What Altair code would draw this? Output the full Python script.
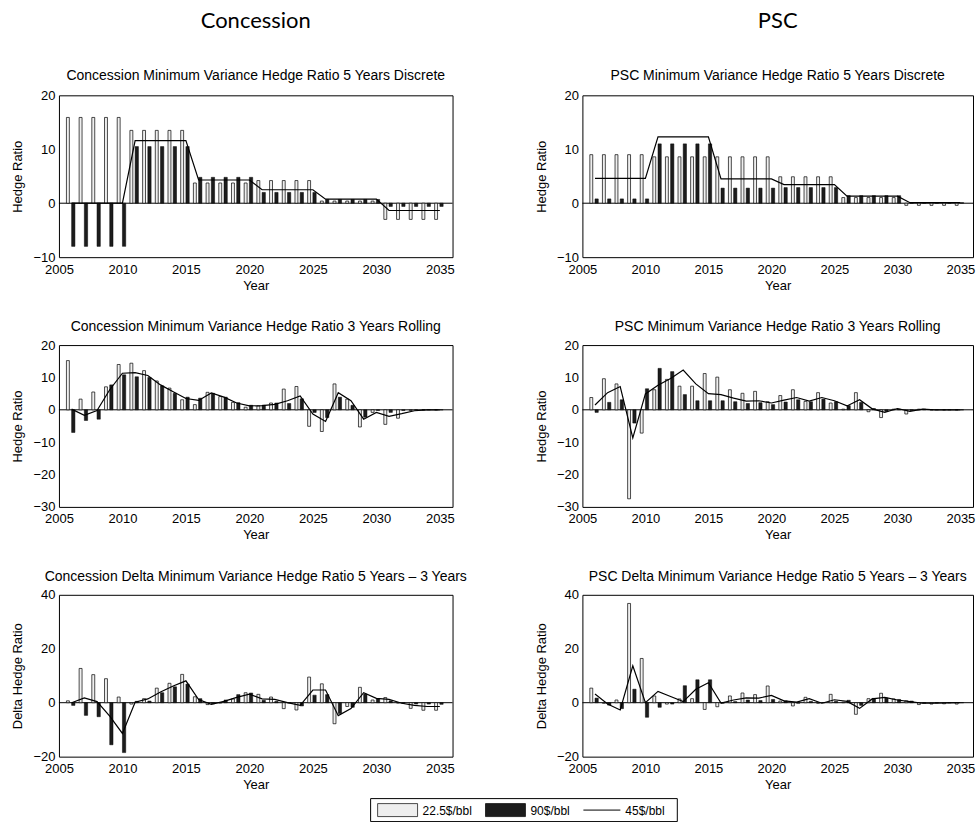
import altair as alt
import pandas as pd

years = list(range(2006, 2036))
series_names = ["22.5$/bbl", "90$/bbl", "45$/bbl"]
x_ticks = [2005, 2010, 2015, 2020, 2025, 2030, 2035]

# Concession, 5 years discrete
con5_low = [15.9, 15.9, 15.9, 15.9, 15.9, 13.5, 13.5, 13.5, 13.5, 13.5,
            3.75, 3.75, 3.75, 3.75, 3.75, 4.2, 4.2, 4.2, 4.2, 4.2,
            0.4, 0.4, 0.4, 0.4, 0.4, -3.0, -3.0, -3.0, -3.0, -3.0]
con5_high = [-8.0, -8.0, -8.0, -8.0, -8.0, 10.5, 10.5, 10.5, 10.5, 10.5,
             4.8, 4.8, 4.8, 4.8, 4.8, 2.0, 2.0, 2.0, 2.0, 2.0,
             0.7, 0.7, 0.7, 0.7, 0.7, -0.6, -0.6, -0.6, -0.6, -0.6]
con5_mid = [0.0, 0.0, 0.0, 0.0, 0.0, 11.6, 11.6, 11.6, 11.6, 11.6,
            4.3, 4.3, 4.3, 4.3, 4.3, 2.5, 2.5, 2.5, 2.5, 2.5,
            0.75, 0.75, 0.75, 0.75, 0.75, -1.35, -1.35, -1.35, -1.35, -1.35]

# PSC, 5 years discrete
psc5_low = [9.0, 9.0, 9.0, 9.0, 9.0, 8.6, 8.6, 8.6, 8.6, 8.6,
            8.6, 8.6, 8.6, 8.6, 8.6, 4.9, 4.9, 4.9, 4.9, 4.9,
            1.05, 1.05, 1.05, 1.05, 1.05, -0.4, -0.4, -0.4, -0.4, -0.4]
psc5_high = [0.8, 0.8, 0.8, 0.8, 0.8, 11.0, 11.0, 11.0, 11.0, 11.0,
             2.8, 2.8, 2.8, 2.8, 2.8, 2.9, 2.9, 2.9, 2.9, 2.9,
             1.4, 1.4, 1.4, 1.4, 1.4, 0.1, 0.1, 0.1, 0.1, 0.1]
psc5_mid = [4.6, 4.6, 4.6, 4.6, 4.6, 12.3, 12.3, 12.3, 12.3, 12.3,
            4.5, 4.5, 4.5, 4.5, 4.5, 3.45, 3.45, 3.45, 3.45, 3.45,
            1.3, 1.3, 1.3, 1.3, 1.3, 0.1, 0.1, 0.1, 0.1, 0.1]

# Concession, 3 years rolling
con3_low = [15.2, 3.3, 5.5, 7.1, 14.0, 14.4, 12.1, 8.9, 6.7, 3.1,
            1.6, 5.4, 4.1, 2.3, 0.8, 1.2, 2.1, 6.4, 7.2, -5.1,
            -6.7, 8.0, 3.3, -5.3, -0.8, -4.5, -2.6, -0.2, 0.0, 0.0]
con3_high = [-7.0, -3.3, -2.9, 7.7, 10.8, 10.2, 10.0, 7.4, 5.1, 3.9,
             3.6, 5.1, 3.9, 2.2, 1.4, 1.4, 2.1, 1.95, 3.4, -0.8,
             -2.4, 3.9, 1.4, -2.3, -0.2, -0.8, -0.2, 0.0, 0.0, 0.0]
con3_mid = [0.2, -1.7, -0.2, 6.2, 11.3, 11.5, 10.6, 7.7, 5.6, 3.5,
            2.9, 5.2, 3.9, 2.1, 1.2, 1.3, 1.7, 2.8, 4.3, -1.3,
            -3.6, 5.3, 2.8, -2.9, -0.8, -2.0, -1.2, -0.3, 0.0, 0.0]

# PSC, 3 years rolling
psc3_low = [3.8, 9.6, 8.0, -27.5, -7.2, 6.2, 9.4, 7.3, 7.3, 11.2,
            10.1, 6.2, 5.1, 5.7, 2.5, 4.4, 6.2, 2.6, 5.3, 2.1,
            0.2, 5.3, -0.6, -2.4, 0.2, -1.3, 0.2, 0.0, 0.0, 0.0]
psc3_high = [-0.8, 2.3, 3.1, -4.1, 6.5, 12.8, 11.8, 4.7, 2.8, 2.8,
             2.8, 2.5, 1.95, 2.2, 1.6, 2.4, 3.1, 2.5, 3.3, 2.5,
             1.3, 2.3, 0.4, -0.5, 0.2, -0.2, 0.2, 0.0, 0.0, 0.0]
psc3_mid = [1.5, 5.3, 7.2, -8.7, 4.9, 7.6, 9.7, 12.3, 8.0, 5.0,
            4.7, 3.6, 2.7, 2.8, 2.1, 3.0, 3.8, 2.7, 3.8, 2.8,
            1.2, 3.1, 0.3, -0.8, 0.4, -0.5, 0.2, 0.0, 0.0, 0.0]

# Concession, delta 5 years - 3 years
cond_low = [0.7, 12.7, 10.4, 8.9, 2.1, -0.5, 1.5, 5.4, 7.2, 10.5,
            2.2, -0.7, -0.1, 1.4, 3.7, 3.1, 2.1, -2.2, -2.7, 9.5,
            7.0, -7.8, -1.4, 5.7, 1.0, 1.9, -0.1, -2.1, -2.8, -2.8]
cond_high = [-1.0, -4.7, -5.2, -15.6, -18.5, 0.5, 0.6, 3.7, 5.9, 6.9,
             1.5, -0.4, 1.0, 3.0, 3.6, 0.9, 0.5, -0.1, -1.2, 2.8,
             3.0, -4.0, -1.7, 3.2, 1.4, 0.7, -0.2, -0.5, -0.5, -0.6]
cond_mid = [0.0, 1.8, 0.4, -5.0, -11.4, 0.2, 1.4, 4.0, 6.2, 8.1,
            1.2, -0.6, 0.5, 2.0, 3.2, 1.4, 1.2, 0.0, -1.0, 4.7,
            4.7, -4.8, -2.2, 3.7, 1.6, 1.2, -0.2, -1.0, -1.4, -1.4]

# PSC, delta 5 years - 3 years
pscd_low = [5.4, -0.2, 1.0, 36.8, 16.4, 2.5, -0.5, 1.4, 1.5, -2.5,
            -1.5, 2.5, 3.6, 3.0, 6.2, 0.6, -1.2, 2.0, -0.2, 3.1,
            0.2, -4.3, 1.5, 3.5, 1.4, 0.7, -0.7, -0.5, -0.4, -0.5]
pscd_high = [1.7, -0.9, -2.2, 5.0, -5.4, -1.7, -0.5, 6.3, 8.5, 8.5,
             -0.2, 0.4, 1.0, 0.8, 1.2, 0.7, -0.2, 0.5, 0.0, 0.5,
             0.9, -1.0, 1.6, 1.7, 1.2, 0.6, -0.2, -0.1, 0.0, 0.0]
pscd_mid = [3.2, -0.5, -2.7, 13.7, 0.0, 4.2, 2.3, 0.4, 5.0, 7.4,
            -0.1, 1.0, 1.8, 1.7, 2.7, 0.7, 0.2, 1.5, -0.2, 1.1,
            0.5, -2.1, 1.4, 2.0, 1.0, 0.4, -0.2, -0.2, -0.1, 0.0]

panels = {
    "con5": (con5_low, con5_high, con5_mid),
    "psc5": (psc5_low, psc5_high, psc5_mid),
    "con3": (con3_low, con3_high, con3_mid),
    "psc3": (psc3_low, psc3_high, psc3_mid),
    "cond": (cond_low, cond_high, cond_mid),
    "pscd": (pscd_low, pscd_high, pscd_mid),
}

rows = []
for key, triple in panels.items():
    for name, vals in zip(series_names, triple):
        for y, v in zip(years, vals):
            rows.append({"panel": key, "series": name, "year": y, "value": v})
df = pd.DataFrame(rows)

FONT = "Liberation Sans"
LIGHT = "#efefef"
DARK = "#1c1c1c"
H = 162


def panel(key, title, ytitle, ydomain, yvalues, width, col_title=None):
    d = df[df.panel == key]
    base = alt.Chart(d)
    xs = alt.Scale(domain=[2005, 2036], nice=False, zero=False)
    ys = alt.Scale(domain=ydomain, nice=False, zero=False)
    xax = alt.Axis(values=x_ticks, format="d", title="Year", grid=False, ticks=False,
                   domain=False, labelPadding=6, titlePadding=3, labelFlush=False,
                   labelFont=FONT, labelFontSize=13, labelColor="black",
                   titleFont=FONT, titleFontSize=13, titleFontWeight="normal", titleColor="black")
    yax = alt.Axis(values=yvalues, title=ytitle, grid=False, ticks=False,
                   domain=False, labelPadding=4, titlePadding=8, labelFlush=False,
                   labelFont=FONT, labelFontSize=13, labelColor="black",
                   titleFont=FONT, titleFontSize=13, titleFontWeight="normal", titleColor="black")
    zero = alt.Chart(pd.DataFrame({"z": [0]})).mark_rule(color="black", strokeWidth=1).encode(
        y=alt.Y("z:Q", scale=ys, axis=yax))
    low = base.transform_filter(alt.datum.series == series_names[0]).transform_calculate(
        xa="datum.year - 0.41", xb="datum.year - 0.18"
    ).mark_bar(fill=LIGHT, stroke="black", strokeWidth=0.7).encode(
        x=alt.X("xa:Q", scale=xs, axis=xax), x2="xb:Q",
        y=alt.Y("value:Q", scale=ys, axis=yax), y2=alt.datum(0))
    high = base.transform_filter(alt.datum.series == series_names[1]).transform_calculate(
        xa="datum.year + 0.0", xb="datum.year + 0.26"
    ).mark_bar(fill=DARK, stroke="black", strokeWidth=0.5).encode(
        x=alt.X("xa:Q", scale=xs, axis=xax), x2="xb:Q",
        y=alt.Y("value:Q", scale=ys, axis=yax), y2=alt.datum(0))
    line = base.transform_filter(alt.datum.series == series_names[2]).mark_line(
        color="black", strokeWidth=1.2).encode(
        x=alt.X("year:Q", scale=xs, axis=xax),
        y=alt.Y("value:Q", scale=ys, axis=yax))
    if col_title:
        t = alt.TitleParams(text=col_title, subtitle=title, font="Lato", fontSize=22,
                            fontWeight="normal", subtitleFont=FONT, subtitleFontSize=14,
                            subtitleColor="black", subtitlePadding=36, anchor="middle",
                            offset=5, color="black")
    else:
        t = alt.TitleParams(text=title, font=FONT, fontSize=14, fontWeight="normal",
                            anchor="middle", offset=5, color="black")
    return alt.layer(zero, low, high, line).properties(
        width=width, height=H, title=t,
        view=alt.ViewBackground(stroke="black", strokeWidth=1))


W1, W2 = 394, 391
col1 = alt.vconcat(
    panel("con5", "Concession Minimum Variance Hedge Ratio 5 Years Discrete", "Hedge Ratio",
          [-10, 20], [-10, 0, 10, 20], W1, "Concession"),
    panel("con3", "Concession Minimum Variance Hedge Ratio 3 Years Rolling", "Hedge Ratio",
          [-30, 20], [-30, -20, -10, 0, 10, 20], W1),
    panel("cond", "Concession Delta Minimum Variance Hedge Ratio 5 Years \u2013 3 Years",
          "Delta Hedge Ratio", [-20, 40], [-20, 0, 20, 40], W1),
    spacing=26,
)
col2 = alt.vconcat(
    panel("psc5", "PSC Minimum Variance Hedge Ratio 5 Years Discrete", "Hedge Ratio",
          [-10, 20], [-10, 0, 10, 20], W2, "PSC"),
    panel("psc3", "PSC Minimum Variance Hedge Ratio 3 Years Rolling", "Hedge Ratio",
          [-30, 20], [-30, -20, -10, 0, 10, 20], W2),
    panel("pscd", "PSC Delta Minimum Variance Hedge Ratio 5 Years \u2013 3 Years",
          "Delta Hedge Ratio", [-20, 40], [-20, 0, 20, 40], W2),
    spacing=26,
)
top = alt.hconcat(col1, col2, spacing=66)

# legend
legend_labels = series_names
ldf = pd.DataFrame({"label": legend_labels})
lb = alt.Chart(ldf)
OX = 312  # legend box left, relative to the plot-area origin


def only(i):
    return lb.transform_filter(alt.datum.label == legend_labels[i])


box = only(0).mark_rect(fill="white", stroke="black", strokeWidth=1).encode(
    x=alt.value(OX), x2=alt.value(OX + 307), y=alt.value(0), y2=alt.value(23))
sw1 = only(0).mark_rect(fill=LIGHT, stroke="black", strokeWidth=0.7).encode(
    x=alt.value(OX + 7), x2=alt.value(OX + 47), y=alt.value(5), y2=alt.value(18))
sw2 = only(1).mark_rect(fill=DARK, stroke="black", strokeWidth=0.7).encode(
    x=alt.value(OX + 115), x2=alt.value(OX + 155), y=alt.value(5), y2=alt.value(18))
ln = only(2).mark_rule(color="black", strokeWidth=1).encode(
    x=alt.value(OX + 213), x2=alt.value(OX + 250), y=alt.value(11.5))
txt_kw = dict(align="left", baseline="middle", font=FONT, fontSize=12, color="black")
t1 = only(0).mark_text(**txt_kw).encode(x=alt.value(OX + 52), y=alt.value(12), text="label:N")
t2 = only(1).mark_text(**txt_kw).encode(x=alt.value(OX + 160), y=alt.value(12), text="label:N")
t3 = only(2).mark_text(**txt_kw).encode(x=alt.value(OX + 255), y=alt.value(12), text="label:N")
legend = alt.layer(box, sw1, sw2, ln, t1, t2, t3).properties(
    width=900, height=24, view=alt.ViewBackground(stroke="transparent"))

chart = alt.vconcat(top, legend, spacing=5).properties(
    padding={"left": 11, "top": 9, "right": 0, "bottom": 0},
    background="white",
)

chart.save("out.html", embed_options={"renderer": "svg", "actions": False})
